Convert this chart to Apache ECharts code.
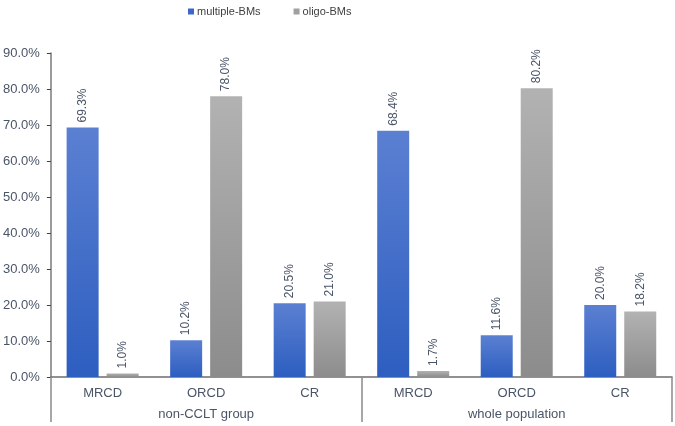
<!DOCTYPE html>
<html>
<head>
<meta charset="utf-8">
<script src="https://cdn.jsdelivr.net/npm/echarts@6/dist/echarts.min.js"></script>
<style>html,body{margin:0;padding:0;background:#fff;}#c{width:675px;height:426px;}</style>
</head>
<body>
<div id="c"></div>
<script>
var categories = ['MRCD','ORCD','CR','MRCD','ORCD','CR'];
var groups = ['non-CCLT group','whole population'];
var multipleBMs = [69.3, 10.2, 20.5, 68.4, 11.6, 20.0];
var oligoBMs = [1.0, 78.0, 21.0, 1.7, 80.2, 18.2];
var seriesNames = ['multiple-BMs','oligo-BMs'];

var chart = echarts.init(document.getElementById('c'));
var font = 'Liberation Sans, Arial, sans-serif';
var labelColor = '#4a5568';
function grad(top, bottom){
  return new echarts.graphic.LinearGradient(0,0,0,1,[{offset:0,color:top},{offset:1,color:bottom}]);
}
var barLabel = {
  show: true, position: 'top', rotate: 90, distance: 5,
  align: 'left', verticalAlign: 'middle',
  fontFamily: font, fontSize: 12, color: labelColor,
  formatter: function(p){ return p.value.toFixed(1) + '%'; }
};
chart.setOption({
  animation: false,
  textStyle: {fontFamily: font},
  legend: {
    top: 1, left: 183, itemWidth: 6, itemHeight: 6, icon: 'rect', itemGap: 33,
    textStyle: {fontFamily: font, fontSize: 11, color: '#404040', padding: [0,0,0,-2]},
    data: [
      {name: seriesNames[0], itemStyle: {color: '#3b68c8'}},
      {name: seriesNames[1], itemStyle: {color: '#a0a0a0'}}
    ]
  },
  grid: {left: 50, right: 3, top: 53, bottom: 49, containLabel: false},
  xAxis: [
    {
      type: 'category', data: categories, position: 'bottom',
      axisLine: {show: true, lineStyle: {color: '#6e6e6e', width: 1.5}},
      axisTick: {show: false},
      axisLabel: {margin: 10, fontSize: 13, color: labelColor, fontFamily: font, interval: 0}
    },
    {
      type: 'category', data: groups, position: 'bottom',
      axisLine: {show: false},
      axisTick: {show: true, length: 45, lineStyle: {color: '#8a8a8a', width: 1.5}},
      axisLabel: {margin: 31, fontSize: 13, color: labelColor, fontFamily: font, interval: 0},
      splitLine: {show: false}
    }
  ],
  yAxis: {
    type: 'value', min: 0, max: 90, interval: 10,
    axisLine: {show: true, lineStyle: {color: '#7a7a7a', width: 1.5}},
    axisTick: {show: true, length: 4, lineStyle: {color: '#404040'}},
    splitLine: {show: false},
    axisLabel: {margin: 11, fontSize: 13, color: labelColor, fontFamily: font,
      formatter: function(v){ return v.toFixed(1) + '%'; }}
  },
  series: [
    {
      name: seriesNames[0], type: 'bar', xAxisIndex: 0, data: multipleBMs,
      barWidth: 32, barGap: '25%',
      itemStyle: {color: grad('#5b80d2', '#2d5ec0')},
      label: barLabel
    },
    {
      name: seriesNames[1], type: 'bar', xAxisIndex: 0, data: oligoBMs,
      barWidth: 32, barGap: '25%',
      itemStyle: {color: grad('#b2b2b2', '#8c8c8c')},
      label: barLabel
    }
  ]
});
</script>
</body>
</html>
